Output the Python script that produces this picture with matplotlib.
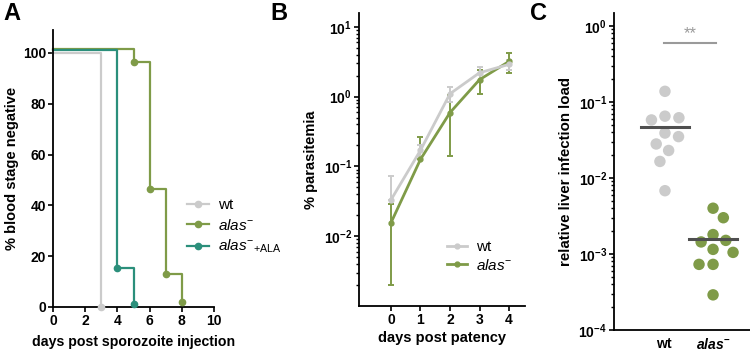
import numpy as np
import matplotlib
matplotlib.use("Agg")
import matplotlib.pyplot as plt
from matplotlib.ticker import FuncFormatter, LogLocator, NullFormatter

# ---------------- data ----------------
# A: survival (% blood stage negative)
wt_days_a = [0, 3]
wt_pct_a = [100, 0]
alas_days_a = [0, 5, 6, 7, 8]
alas_pct_a = [101.6, 96.5, 46.5, 13, 2]
ala_days_a = [0, 4, 5]
ala_pct_a = [101, 15.5, 1]

# B: parasitemia, mean and SD
patency_days = [0, 1, 2, 3, 4]
wt_mean_b = [0.033, 0.17, 1.1, 2.2, 2.9]
wt_sd_b = [0.039, 0.03, 0.27, 0.5, 0.5]
alas_mean_b = [0.0155, 0.126, 0.59, 1.75, 3.2]
alas_sd_b = [0.0135, 0.134, 0.45, 0.65, 1.0]

# C: relative liver load
groups_c = ["wt", "alas"]
wt_load_c = [0.138, 0.062, 0.058, 0.065, 0.039, 0.035, 0.028, 0.023, 0.0165, 0.0068]
alas_load_c = [0.004, 0.003, 0.0018, 0.00144, 0.00151, 0.00115, 0.00105, 0.00073, 0.00073, 0.00029]

GREY = "#cbcbcb"
GREEN = "#7f9b48"
TEAL = "#2b8f7b"
DARK = "#4f4f4f"

plt.rcParams["font.family"] = ["Liberation Sans", "DejaVu Sans"]
plt.rcParams["mathtext.fontset"] = "custom"
plt.rcParams["mathtext.rm"] = "Liberation Sans:normal"
plt.rcParams["mathtext.it"] = "Liberation Sans:italic:normal"
plt.rcParams["mathtext.bf"] = "Liberation Sans:bold"
plt.rcParams["mathtext.bfit"] = "Liberation Sans:italic:bold"

W, H = 750, 351
fig = plt.figure(figsize=(7.5, 3.51), dpi=100)


def px_axes(left, top, right, bottom):
    return fig.add_axes([left / W, 1 - bottom / H, (right - left) / W, (bottom - top) / H])


def style(ax):
    for s in ["top", "right"]:
        ax.spines[s].set_visible(False)
    for s in ["left", "bottom"]:
        ax.spines[s].set_linewidth(1.3)
    ax.tick_params(which="major", length=3.5, width=1.2, labelsize=10, pad=1.5)
    ax.tick_params(which="minor", length=2, width=1.0)
    for lab in ax.get_xticklabels() + ax.get_yticklabels():
        lab.set_fontweight("bold")


log_fmt = FuncFormatter(lambda v, p: r"$\mathbf{10^{%d}}$" % round(np.log10(v)))

# ================= A =================
axA = px_axes(53, 30, 214, 307)
for d, p, c in [(wt_days_a, wt_pct_a, GREY), (alas_days_a, alas_pct_a, GREEN), (ala_days_a, ala_pct_a, TEAL)]:
    axA.step(d, p, where="post", color=c, lw=1.6, clip_on=False)
    axA.plot(d[1:], p[1:], "o", color=c, ms=4.5, clip_on=False, zorder=5)
axA.set_xlim(0, 10)
axA.set_ylim(0, 109)
axA.set_xticks(range(0, 11, 2))
axA.set_yticks(range(0, 101, 20))
style(axA)
axA.set_xlabel("days post sporozoite injection", fontsize=10.2, fontweight="bold", labelpad=5)
axA.set_ylabel("% blood stage negative", fontsize=10.5, fontweight="bold", labelpad=3)
hA = [axA.plot([], [], "-o", color=c, lw=1.6, ms=4.5)[0] for c in (GREY, GREEN, TEAL)]
axA.legend(hA, ["wt", r"$alas^{-}$", r"$alas^{-}{}_{\mathrm{+ALA}}$"],
           loc="center left", bbox_to_anchor=(0.832, 0.289), frameon=False,
           prop={"weight": "normal", "size": 11}, handlelength=1.45,
           handletextpad=0.6, labelspacing=0.35, borderaxespad=0, borderpad=0)

# ================= B =================
axB = px_axes(359, 13, 525, 306)
for mean, sd, c in [(alas_mean_b, alas_sd_b, GREEN), (wt_mean_b, wt_sd_b, GREY)]:
    mean = np.array(mean)
    sd = np.array(sd)
    lower = np.where(mean - sd > 0, sd, 0)
    axB.errorbar(patency_days, mean, yerr=[lower, sd], color=c, lw=2.0, elinewidth=1.4,
                 capsize=2.5, capthick=1.4, marker="o", ms=3.5)
axB.set_yscale("log")
axB.set_ylim(1e-3, 15.8)
axB.set_xlim(-1.08, 4.54)
axB.set_xticks(patency_days)
axB.yaxis.set_major_locator(LogLocator(base=10, numticks=10))
axB.yaxis.set_major_formatter(log_fmt)
axB.yaxis.set_minor_locator(LogLocator(base=10, subs=np.arange(2, 10), numticks=10))
axB.yaxis.set_minor_formatter(NullFormatter())
style(axB)
axB.set_yticks([1e-2, 1e-1, 1e0, 1e1])
axB.set_xlabel("days post patency", fontsize=10.5, fontweight="bold", labelpad=3)
axB.set_ylabel("% parasitemia", fontsize=10.5, fontweight="bold", labelpad=4)
hB = [axB.plot([], [], "-o", color=c, lw=2.0, ms=3.5)[0] for c in (GREY, GREEN)]
axB.legend(hB, ["wt", r"$alas^{-}$"], loc="center left", bbox_to_anchor=(0.53, 0.169),
           frameon=False, prop={"weight": "normal", "size": 11}, handlelength=1.3,
           handletextpad=0.6, labelspacing=0.2, borderaxespad=0, borderpad=0)

# ================= C =================
axC = px_axes(614, 13, 752, 330)
axC.set_yscale("log")
axC.set_ylim(1e-4, 1.48)
axC.set_xlim(-1.06, 1.81)

# beeswarm layout in pixel units
px_x = 48.0            # pixels per x unit
px_dec = 76.0          # pixels per decade
gap = 14.0             # min centre distance used for the layout, px


def swarm(vals):
    ys = np.log10(vals) * px_dec
    order = np.argsort(-ys)
    placed = []
    xs = np.zeros(len(vals))
    for i in order:
        cands = [0.0]
        for (px, py) in placed:
            dy = ys[i] - py
            if abs(dy) < gap:
                dx = np.sqrt(gap ** 2 - dy ** 2)
                cands += [px + dx, px - dx]
        cands.sort(key=abs)
        for cx in cands:
            if all((cx - px) ** 2 + (ys[i] - py) ** 2 >= gap ** 2 - 1e-6 for px, py in placed):
                xs[i] = cx
                placed.append((cx, ys[i]))
                break
    return xs / px_x


for k, (vals, c) in enumerate([(wt_load_c, GREY), (alas_load_c, GREEN)]):
    xs = k + swarm(vals)
    axC.scatter(xs, vals, s=68, color=c, edgecolors="none", zorder=3)
    m = np.mean(vals)
    axC.plot([k - 0.5, k + 0.5], [m, m], color=DARK, lw=2.2, zorder=4)

# significance bar
axC.plot([-0.03, 1.07], [0.59, 0.59], color="#9a9a9a", lw=1.5)
axC.text(0.52, 0.64, "**", ha="center", va="bottom", color="#9a9a9a", fontsize=12)

axC.yaxis.set_major_locator(LogLocator(base=10, numticks=10))
axC.yaxis.set_major_formatter(log_fmt)
axC.yaxis.set_minor_locator(LogLocator(base=10, subs=np.arange(2, 10), numticks=10))
axC.yaxis.set_minor_formatter(NullFormatter())
axC.set_xticks([0, 1])
axC.set_xticklabels([r"$\mathbf{wt}$", r"$\mathbfit{alas}^{\mathbf{-}}$"], fontsize=11.5)
style(axC)
axC.set_yticks([1e-4, 1e-3, 1e-2, 1e-1, 1e0])
axC.tick_params(axis="x", length=0, pad=5)
axC.set_ylabel("relative liver infection load", fontsize=10.8, fontweight="bold", labelpad=4)

# panel letters
for x, lab in [(3, "A"), (270, "B"), (530, "C")]:
    fig.text(x / W, 1 - 2 / H, lab, fontsize=17, fontweight="bold", va="top", ha="left")

fig.savefig("out.png", dpi=100)
